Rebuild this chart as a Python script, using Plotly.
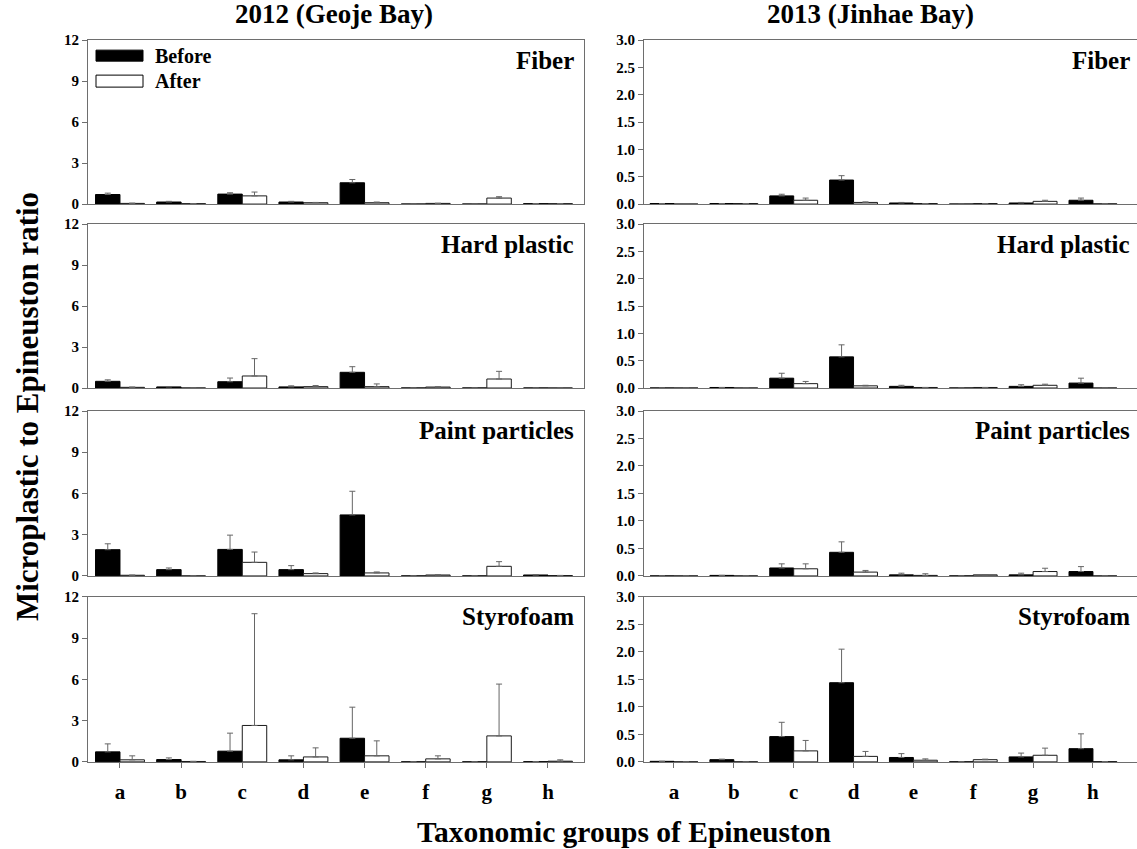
import plotly.graph_objects as go

W, H = 1137, 849

categories = ['a', 'b', 'c', 'd', 'e', 'f', 'g', 'h']
panel_names = ['Fiber', 'Hard plastic', 'Paint particles', 'Styrofoam']
column_titles = ['2012 (Geoje Bay)', '2013 (Jinhae Bay)']
yticks_2012 = [0, 3, 6, 9, 12]
yticks_2013 = [0.0, 0.5, 1.0, 1.5, 2.0, 2.5, 3.0]

# ---- 2012 (Geoje Bay) ----
fiber_2012_before = [0.70, 0.15, 0.73, 0.15, 1.56, 0.00, 0.00, 0.03]
fiber_2012_before_err = [0.10, 0.05, 0.10, 0.05, 0.24, 0.00, 0.00, 0.01]
fiber_2012_after = [0.05, 0.03, 0.60, 0.10, 0.10, 0.05, 0.44, 0.03]
fiber_2012_after_err = [0.02, 0.01, 0.28, 0.02, 0.05, 0.01, 0.10, 0.01]

hard_2012_before = [0.49, 0.08, 0.46, 0.08, 1.15, 0.00, 0.00, 0.00]
hard_2012_before_err = [0.11, 0.03, 0.27, 0.08, 0.41, 0.00, 0.00, 0.00]
hard_2012_after = [0.05, 0.00, 0.88, 0.10, 0.10, 0.07, 0.66, 0.00]
hard_2012_after_err = [0.02, 0.00, 1.27, 0.08, 0.20, 0.02, 0.56, 0.00]

paint_2012_before = [1.91, 0.46, 1.93, 0.46, 4.44, 0.00, 0.00, 0.07]
paint_2012_before_err = [0.43, 0.12, 1.04, 0.29, 1.72, 0.00, 0.00, 0.02]
paint_2012_after = [0.05, 0.00, 0.99, 0.17, 0.22, 0.07, 0.70, 0.03]
paint_2012_after_err = [0.01, 0.00, 0.75, 0.05, 0.07, 0.01, 0.34, 0.01]

styro_2012_before = [0.73, 0.17, 0.78, 0.15, 1.72, 0.00, 0.00, 0.01]
styro_2012_before_err = [0.58, 0.12, 1.31, 0.29, 2.26, 0.00, 0.00, 0.00]
styro_2012_after = [0.15, 0.03, 2.65, 0.36, 0.44, 0.22, 1.89, 0.05]
styro_2012_after_err = [0.29, 0.01, 8.13, 0.66, 1.09, 0.22, 3.77, 0.10]

# ---- 2013 (Jinhae Bay) ----
fiber_2013_before = [0.01, 0.01, 0.15, 0.44, 0.02, 0.00, 0.02, 0.07]
fiber_2013_before_err = [0.00, 0.00, 0.03, 0.08, 0.01, 0.00, 0.01, 0.04]
fiber_2013_after = [0.00, 0.01, 0.07, 0.03, 0.01, 0.01, 0.05, 0.005]
fiber_2013_after_err = [0.00, 0.00, 0.04, 0.01, 0.00, 0.00, 0.02, 0.00]

hard_2013_before = [0.00, 0.01, 0.18, 0.57, 0.03, 0.00, 0.03, 0.09]
hard_2013_before_err = [0.00, 0.00, 0.09, 0.22, 0.02, 0.00, 0.03, 0.09]
hard_2013_after = [0.00, 0.00, 0.08, 0.04, 0.01, 0.01, 0.05, 0.00]
hard_2013_after_err = [0.00, 0.00, 0.04, 0.01, 0.00, 0.00, 0.02, 0.00]

paint_2013_before = [0.00, 0.01, 0.145, 0.43, 0.02, 0.00, 0.02, 0.08]
paint_2013_before_err = [0.00, 0.00, 0.075, 0.19, 0.03, 0.00, 0.03, 0.09]
paint_2013_after = [0.00, 0.00, 0.13, 0.07, 0.01, 0.02, 0.08, 0.00]
paint_2013_after_err = [0.00, 0.00, 0.09, 0.03, 0.03, 0.00, 0.06, 0.00]

styro_2013_before = [0.01, 0.04, 0.46, 1.44, 0.08, 0.00, 0.09, 0.24]
styro_2013_before_err = [0.00, 0.01, 0.26, 0.61, 0.07, 0.00, 0.07, 0.27]
styro_2013_after = [0.00, 0.00, 0.20, 0.10, 0.03, 0.04, 0.12, 0.005]
styro_2013_after_err = [0.00, 0.00, 0.19, 0.09, 0.025, 0.01, 0.13, 0.00]

data_2012 = [
    (fiber_2012_before, fiber_2012_before_err, fiber_2012_after, fiber_2012_after_err),
    (hard_2012_before, hard_2012_before_err, hard_2012_after, hard_2012_after_err),
    (paint_2012_before, paint_2012_before_err, paint_2012_after, paint_2012_after_err),
    (styro_2012_before, styro_2012_before_err, styro_2012_after, styro_2012_after_err),
]
data_2013 = [
    (fiber_2013_before, fiber_2013_before_err, fiber_2013_after, fiber_2013_after_err),
    (hard_2013_before, hard_2013_before_err, hard_2013_after, hard_2013_after_err),
    (paint_2013_before, paint_2013_before_err, paint_2013_after, paint_2013_after_err),
    (styro_2013_before, styro_2013_before_err, styro_2013_after, styro_2013_after_err),
]

FONT = 'Liberation Serif'
AXIS_COLOR = '#6e6e6e'
ERR_COLOR = '#666666'


def px_x(p):
    return p / W


def px_y(p):
    # vertical pixel position (from top) -> paper fraction, compensating the
    # slight vertical compression observed in the rendered page
    s = p / 0.9815 - 8
    return 1 - s / H


# panel pixel geometry (top, bottom)
rows_px = [(40, 204), (224, 388), (411, 576), (597, 762)]
cols_px = [(88, 584), (644, 1137)]
x_ranges = [[-0.523, 7.589], [-0.501, 7.736]]

fig = go.Figure()
layout_axes = {}
annotations = []

k = 0
for c in range(2):
    data = data_2012 if c == 0 else data_2013
    for r in range(4):
        k += 1
        xa = 'x' if k == 1 else f'x{k}'
        ya = 'y' if k == 1 else f'y{k}'
        before, before_err, after, after_err = data[r]
        fig.add_trace(go.Bar(
            x=categories, y=before, name='Before', xaxis=xa, yaxis=ya,
            marker=dict(color='black', line=dict(color='black', width=1)),
            error_y=dict(type='data', symmetric=False, array=before_err,
                         arrayminus=[0] * len(before_err),
                         color=ERR_COLOR, thickness=1, width=3),
            offsetgroup='before', showlegend=False))
        fig.add_trace(go.Bar(
            x=categories, y=after, name='After', xaxis=xa, yaxis=ya,
            marker=dict(color='white', line=dict(color='#1a1a1a', width=1)),
            error_y=dict(type='data', symmetric=False, array=after_err,
                         arrayminus=[0] * len(after_err),
                         color=ERR_COLOR, thickness=1, width=3),
            offsetgroup='after', showlegend=False))

        top, bot = rows_px[r]
        left, right = cols_px[c]
        xname = 'xaxis' if k == 1 else f'xaxis{k}'
        yname = 'yaxis' if k == 1 else f'yaxis{k}'
        bottom_row = (r == 3)
        layout_axes[xname] = dict(
            domain=[px_x(left), min(1.0, px_x(right))],
            anchor=ya, range=x_ranges[c], type='category',
            showline=True, linecolor=AXIS_COLOR, linewidth=1, mirror=True,
            ticks='outside' if bottom_row else '', ticklen=5, tickcolor=AXIS_COLOR,
            showticklabels=bottom_row, ticklabelstandoff=6,
            tickfont=dict(family=FONT, size=21, color='black', weight='bold'),
            showgrid=False, zeroline=False, fixedrange=True,
        )
        if c == 0:
            yrng, yt, ytt = [0, 12], yticks_2012, [str(v) for v in yticks_2012]
        else:
            yrng, yt, ytt = [0, 3], yticks_2013, [f'{v:.1f}' for v in yticks_2013]
        layout_axes[yname] = dict(
            domain=[px_y(bot), px_y(top)], anchor=xa, range=yrng,
            tickvals=yt, ticktext=ytt,
            showline=True, linecolor=AXIS_COLOR, linewidth=1, mirror=(c == 0),
            ticks='outside', ticklen=5, tickcolor=AXIS_COLOR,
            tickfont=dict(family=FONT, size=15, color='black', weight='bold'),
            showgrid=False, zeroline=False, fixedrange=True,
        )
        label_x = 576 if c == 0 else 1132
        annotations.append(dict(
            text=f'<b>{panel_names[r]}</b>', x=px_x(label_x), y=px_y(top + 20),
            xref='paper', yref='paper', xanchor='right', yanchor='middle',
            showarrow=False, font=dict(family=FONT, size=25, color='black')))

# column titles
for c, cx in enumerate([334, 870]):
    annotations.append(dict(
        text=f'<b>{column_titles[c]}</b>', x=px_x(cx), y=px_y(14),
        xref='paper', yref='paper', xanchor='center', yanchor='middle',
        showarrow=False, font=dict(family=FONT, size=27, color='black')))

# axis titles
annotations.append(dict(
    text='<b>Taxonomic groups of Epineuston</b>', x=px_x(624), y=px_y(832),
    xref='paper', yref='paper', xanchor='center', yanchor='middle',
    showarrow=False, font=dict(family=FONT, size=29.5, color='black')))
annotations.append(dict(
    text='<b>Microplastic to Epineuston ratio</b>', x=px_x(27), y=px_y(407),
    xref='paper', yref='paper', xanchor='center', yanchor='middle', textangle=-90,
    showarrow=False, font=dict(family=FONT, size=31, color='black')))

# legend (drawn in first panel)
shapes = [
    dict(type='rect', xref='paper', yref='paper',
         x0=px_x(96), x1=px_x(143), y0=px_y(61), y1=px_y(50),
         fillcolor='black', line=dict(color='black', width=1)),
    dict(type='rect', xref='paper', yref='paper',
         x0=px_x(96), x1=px_x(143), y0=px_y(87), y1=px_y(75),
         fillcolor='white', line=dict(color='black', width=1)),
]
for txt, yy in [('Before', 56), ('After', 81)]:
    annotations.append(dict(
        text=f'<b>{txt}</b>', x=px_x(153), y=px_y(yy),
        xref='paper', yref='paper', xanchor='left', yanchor='middle',
        showarrow=False, font=dict(family=FONT, size=20, color='black')))

fig.update_layout(
    width=W, height=H,
    margin=dict(l=0, r=0, t=0, b=0),
    paper_bgcolor='white', plot_bgcolor='white',
    barmode='group', bargap=0.2, bargroupgap=0,
    showlegend=False,
    annotations=annotations, shapes=shapes,
    font=dict(family=FONT, color='black'),
    **layout_axes,
)

fig.write_html('out.html')
